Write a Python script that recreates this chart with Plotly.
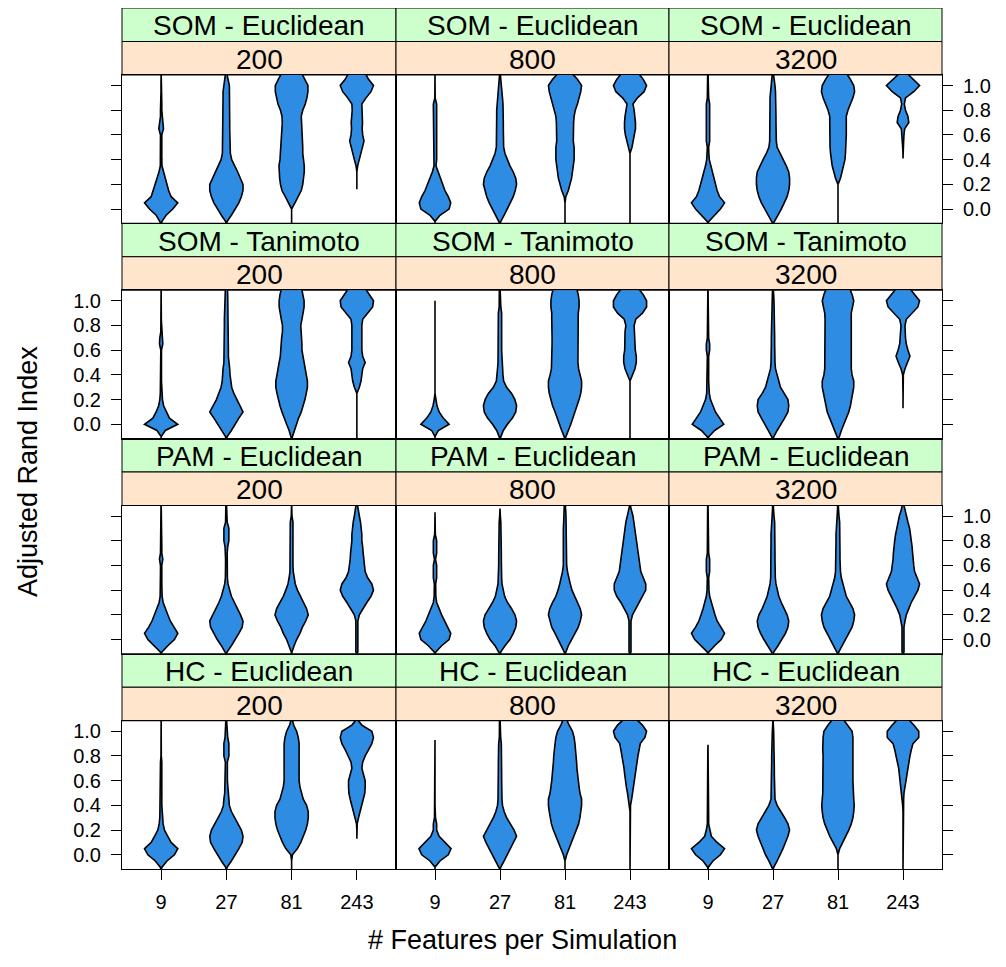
import plotly.graph_objects as go

# ---------------- data ----------------
METHODS = ["SOM - Euclidean", "SOM - Tanimoto", "PAM - Euclidean", "HC - Euclidean"]
SAMPLE_SIZES = ["200", "800", "3200"]
FEATURES = ["9", "27", "81", "243"]
Y_TICKS = [0.0, 0.2, 0.4, 0.6, 0.8, 1.0]
Y_TICK_TEXT = ["0.0", "0.2", "0.4", "0.6", "0.8", "1.0"]

# density profile levels (Adjusted Rand Index) at which violin half-widths were read
Y_LEVELS = [-0.10, -0.05, 0.00, 0.05, 0.10, 0.15, 0.20, 0.25, 0.30, 0.35, 0.40, 0.45,
            0.50, 0.55, 0.60, 0.65, 0.70, 0.75, 0.80, 0.85, 0.90, 0.95, 1.00, 1.05, 1.10]

# relative half-widths (1 = widest) per violin, one list per feature count; and (low, high) extents
SOM_EUC_200 = [
    [0.05, 0.3, 0.7, 1.0, 0.6, 0.45, 0.34, 0.25, 0.13, 0.05, 0.04, 0.04, 0.04, 0.04, 0.04, 0.14, 0.1, 0.04, 0.04, 0.04, 0.03, 0.01, 0.01, 0.01, 0.01],
    [0.05, 0.3, 0.55, 0.75, 0.9, 1.0, 1.0, 0.86, 0.68, 0.5, 0.32, 0.24, 0.22, 0.2, 0.2, 0.2, 0.2, 0.2, 0.2, 0.2, 0.2, 0.2, 0.18, 0.1, 0.05],
    [0, 0, 0, 0.2, 0.38, 0.58, 0.67, 0.72, 0.76, 0.76, 0.7, 0.67, 0.67, 0.65, 0.6, 0.58, 0.56, 0.58, 0.67, 0.82, 0.92, 0.98, 0.98, 0.8, 0.6],
    [0, 0, 0, 0, 0, 0, 0, 0, 0, 0.05, 0.15, 0.25, 0.35, 0.43, 0.35, 0.32, 0.34, 0.32, 0.28, 0.3, 0.55, 0.85, 1.0, 0.7, 0.5],
]
SOM_EUC_200_EXT = [(-0.12, 1.12), (-0.12, 1.12), (-0.12, 1.15), (0.16, 1.15)]

SOM_EUC_800 = [
    [0, 0.3, 0.85, 0.95, 0.8, 0.6, 0.46, 0.3, 0.16, 0.06, 0.1, 0.1, 0.1, 0.1, 0.1, 0.1, 0.1, 0.1, 0.1, 0.1, 0.01, 0.01, 0.01, 0.01, 0.01],
    [0.05, 0.25, 0.45, 0.65, 0.8, 0.92, 1.0, 0.95, 0.8, 0.6, 0.45, 0.3, 0.22, 0.2, 0.2, 0.2, 0.2, 0.2, 0.2, 0.18, 0.15, 0.12, 0.1, 0.05, 0.02],
    [0, 0, 0, 0, 0.05, 0.2, 0.3, 0.4, 0.45, 0.5, 0.55, 0.55, 0.55, 0.5, 0.5, 0.5, 0.52, 0.55, 0.62, 0.75, 0.85, 0.95, 1.0, 0.75, 0.4],
    [0, 0, 0, 0, 0, 0, 0, 0, 0, 0, 0, 0, 0.12, 0.2, 0.28, 0.33, 0.33, 0.3, 0.25, 0.18, 0.45, 0.85, 1.0, 0.8, 0.5],
]
SOM_EUC_800_EXT = [(-0.12, 1.12), (-0.12, 1.12), (-0.12, 1.15), (-0.12, 1.15)]

SOM_EUC_3200 = [
    [0.05, 0.4, 0.75, 1.0, 0.7, 0.55, 0.45, 0.35, 0.25, 0.15, 0.08, 0.05, 0.04, 0.1, 0.1, 0.1, 0.1, 0.1, 0.1, 0.1, 0.04, 0.04, 0.03, 0.02, 0.02],
    [0.1, 0.3, 0.5, 0.7, 0.85, 0.95, 1.0, 1.0, 0.95, 0.8, 0.6, 0.4, 0.25, 0.2, 0.18, 0.18, 0.18, 0.18, 0.18, 0.18, 0.18, 0.15, 0.12, 0.08, 0.04],
    [0, 0, 0, 0, 0, 0, 0, 0.15, 0.25, 0.35, 0.42, 0.45, 0.48, 0.48, 0.5, 0.5, 0.5, 0.5, 0.6, 0.75, 0.9, 1.0, 0.95, 0.75, 0.5],
    [0, 0, 0, 0, 0, 0, 0, 0, 0, 0, 0, 0, 0.02, 0.04, 0.06, 0.1, 0.35, 0.3, 0.15, 0.08, 0.15, 0.65, 1.0, 0.6, 0.2],
]
SOM_EUC_3200_EXT = [(-0.12, 1.12), (-0.12, 1.12), (-0.12, 1.15), (0.41, 1.13)]

SOM_TAN_200 = [
    [0, 0.25, 1.0, 0.5, 0.3, 0.15, 0.08, 0.05, 0.02, 0.02, 0.02, 0.02, 0.02, 0.02, 0.02, 0.1, 0.08, 0.02, 0.02, 0.01, 0.01, 0.01, 0.01, 0.01, 0.01],
    [0.05, 0.3, 0.5, 0.75, 1.0, 0.8, 0.6, 0.45, 0.32, 0.25, 0.22, 0.2, 0.15, 0.12, 0.12, 0.12, 0.12, 0.12, 0.12, 0.12, 0.12, 0.1, 0.08, 0.08, 0.06],
    [0.05, 0.15, 0.3, 0.42, 0.58, 0.7, 0.8, 0.88, 0.95, 0.95, 0.88, 0.8, 0.75, 0.68, 0.62, 0.62, 0.6, 0.55, 0.55, 0.62, 0.7, 0.75, 0.75, 0.7, 0.6],
    [0, 0, 0, 0, 0, 0, 0, 0, 0.15, 0.25, 0.3, 0.35, 0.5, 0.35, 0.3, 0.3, 0.3, 0.28, 0.3, 0.35, 0.65, 0.95, 1.0, 0.75, 0.5],
]
SOM_TAN_200_EXT = [(-0.12, 1.12), (-0.12, 1.12), (-0.12, 1.15), (-0.12, 1.15)]

SOM_TAN_800 = [
    [0, 0.2, 0.85, 0.5, 0.25, 0.12, 0.05, 0, 0, 0, 0, 0, 0, 0, 0, 0, 0, 0, 0, 0, 0, 0, 0, 0, 0],
    [0.05, 0.2, 0.45, 0.75, 0.95, 1.0, 0.9, 0.7, 0.4, 0.22, 0.18, 0.15, 0.12, 0.1, 0.1, 0.1, 0.1, 0.1, 0.1, 0.1, 0.1, 0.05, 0.04, 0.04, 0.04],
    [0.05, 0.2, 0.35, 0.48, 0.6, 0.75, 0.85, 0.95, 1.0, 1.0, 0.9, 0.82, 0.78, 0.78, 0.78, 0.78, 0.78, 0.78, 0.78, 0.8, 0.8, 0.85, 0.85, 0.8, 0.7],
    [0, 0, 0, 0, 0, 0, 0, 0, 0, 0, 0.15, 0.3, 0.38, 0.38, 0.32, 0.3, 0.3, 0.3, 0.25, 0.35, 0.75, 1.0, 1.0, 0.8, 0.5],
]
SOM_TAN_800_EXT = [(-0.12, 1.0), (-0.12, 1.12), (-0.12, 1.15), (-0.12, 1.15)]

SOM_TAN_3200 = [
    [0.05, 0.4, 0.95, 0.7, 0.45, 0.3, 0.15, 0.08, 0.05, 0.04, 0.04, 0.04, 0.04, 0.04, 0.1, 0.1, 0.04, 0.04, 0.04, 0.03, 0.01, 0.01, 0.01, 0.01, 0.01],
    [0.05, 0.25, 0.5, 0.7, 0.9, 0.95, 0.9, 0.65, 0.45, 0.35, 0.25, 0.15, 0.12, 0.1, 0.1, 0.1, 0.1, 0.1, 0.1, 0.1, 0.1, 0.08, 0.06, 0.04, 0.03],
    [0.08, 0.2, 0.35, 0.5, 0.65, 0.75, 0.82, 0.88, 0.95, 0.95, 0.85, 0.8, 0.8, 0.78, 0.78, 0.78, 0.78, 0.78, 0.78, 0.78, 0.8, 0.88, 0.95, 0.85, 0.7],
    [0, 0, 0, 0, 0, 0, 0, 0, 0, 0, 0.02, 0.12, 0.28, 0.42, 0.3, 0.2, 0.15, 0.15, 0.12, 0.2, 0.55, 0.9, 1.0, 0.7, 0.4],
]
SOM_TAN_3200_EXT = [(-0.12, 1.12), (-0.12, 1.12), (-0.12, 1.15), (0.13, 1.15)]

PAM_EUC_200 = [
    [0.05, 0.4, 0.8, 1.0, 0.75, 0.55, 0.4, 0.25, 0.12, 0.06, 0.03, 0.04, 0.04, 0.04, 0.04, 0.1, 0.04, 0.04, 0.04, 0.01, 0.01, 0.01, 0.01, 0.01, 0.01],
    [0.05, 0.3, 0.55, 0.75, 0.95, 1.0, 0.85, 0.65, 0.45, 0.3, 0.2, 0.1, 0.06, 0.05, 0.05, 0.05, 0.05, 0.08, 0.15, 0.15, 0.15, 0.05, 0.05, 0.03, 0.03],
    [0.02, 0.15, 0.3, 0.5, 0.65, 0.85, 1.0, 0.9, 0.7, 0.5, 0.35, 0.22, 0.15, 0.1, 0.08, 0.08, 0.08, 0.08, 0.08, 0.08, 0.08, 0.08, 0.02, 0.02, 0.02],
    [0.06, 0.06, 0.06, 0.06, 0.06, 0.06, 0.15, 0.35, 0.6, 0.85, 1.0, 0.9, 0.65, 0.5, 0.45, 0.4, 0.38, 0.35, 0.3, 0.3, 0.28, 0.22, 0.15, 0.08, 0.04],
]
PAM_EUC_200_EXT = [(-0.12, 1.12), (-0.12, 1.12), (-0.12, 1.12), (-0.12, 1.12)]

PAM_EUC_800 = [
    [0.05, 0.4, 0.85, 0.95, 0.75, 0.55, 0.4, 0.25, 0.1, 0.05, 0.04, 0.04, 0.1, 0.1, 0.1, 0.03, 0.1, 0.1, 0.1, 0.02, 0.01, 0.01, 0, 0, 0],
    [0.05, 0.3, 0.6, 0.8, 0.95, 1.0, 0.9, 0.7, 0.45, 0.28, 0.2, 0.12, 0.1, 0.08, 0.08, 0.08, 0.08, 0.08, 0.08, 0.08, 0.06, 0.05, 0.02, 0.01, 0.01],
    [0.05, 0.2, 0.4, 0.6, 0.8, 0.92, 1.0, 0.92, 0.75, 0.55, 0.42, 0.32, 0.22, 0.15, 0.1, 0.1, 0.1, 0.1, 0.1, 0.1, 0.1, 0.08, 0.06, 0.04, 0.04],
    [0.06, 0.06, 0.06, 0.06, 0.06, 0.06, 0.15, 0.35, 0.55, 0.8, 0.95, 0.95, 0.8, 0.65, 0.6, 0.55, 0.5, 0.45, 0.4, 0.35, 0.3, 0.25, 0.18, 0.08, 0.02],
]
PAM_EUC_800_EXT = [(-0.12, 1.03), (-0.12, 1.06), (-0.12, 1.12), (-0.12, 1.1)]

PAM_EUC_3200 = [
    [0.05, 0.4, 0.8, 1.0, 0.75, 0.55, 0.42, 0.3, 0.18, 0.1, 0.06, 0.04, 0.04, 0.1, 0.1, 0.1, 0.04, 0.04, 0.04, 0.04, 0.02, 0.02, 0.02, 0.02, 0.02],
    [0.05, 0.3, 0.55, 0.75, 0.9, 0.95, 0.85, 0.65, 0.5, 0.35, 0.25, 0.18, 0.14, 0.12, 0.12, 0.12, 0.12, 0.12, 0.12, 0.12, 0.12, 0.1, 0.06, 0.03, 0.02],
    [0.05, 0.25, 0.45, 0.65, 0.85, 0.95, 1.0, 0.9, 0.7, 0.5, 0.4, 0.3, 0.2, 0.15, 0.12, 0.12, 0.12, 0.12, 0.12, 0.12, 0.12, 0.1, 0.06, 0.03, 0.02],
    [0.06, 0.06, 0.06, 0.06, 0.06, 0.12, 0.2, 0.35, 0.5, 0.7, 0.9, 1.0, 0.85, 0.7, 0.65, 0.6, 0.58, 0.55, 0.5, 0.45, 0.4, 0.3, 0.22, 0.1, 0.03],
]
PAM_EUC_3200_EXT = [(-0.12, 1.12), (-0.12, 1.12), (-0.12, 1.12), (-0.12, 1.12)]

HC_EUC_200 = [
    [0.05, 0.35, 0.8, 1.0, 0.6, 0.4, 0.2, 0.12, 0.08, 0.04, 0.04, 0.04, 0.04, 0.08, 0.08, 0.06, 0.04, 0.04, 0.01, 0.01, 0.01, 0.01, 0.01, 0.01, 0.01],
    [0.05, 0.3, 0.55, 0.75, 0.95, 1.0, 0.9, 0.7, 0.5, 0.3, 0.18, 0.15, 0.1, 0.06, 0.06, 0.06, 0.06, 0.06, 0.15, 0.15, 0.15, 0.08, 0.06, 0.05, 0.03],
    [0, 0, 0.05, 0.35, 0.55, 0.72, 0.85, 0.95, 1.0, 1.0, 0.9, 0.7, 0.6, 0.5, 0.45, 0.45, 0.45, 0.45, 0.45, 0.45, 0.45, 0.4, 0.3, 0.12, 0.02],
    [0, 0, 0, 0, 0, 0, 0, 0.02, 0.1, 0.2, 0.3, 0.4, 0.48, 0.5, 0.5, 0.4, 0.3, 0.35, 0.5, 0.7, 0.9, 1.0, 0.9, 0.3, 0.0],
]
HC_EUC_200_EXT = [(-0.12, 1.12), (-0.12, 1.12), (-0.12, 1.12), (0.13, 1.12)]

HC_EUC_800 = [
    [0, 0.3, 0.8, 0.97, 0.6, 0.25, 0.1, 0.1, 0.03, 0, 0, 0, 0, 0, 0, 0, 0, 0, 0, 0, 0, 0, 0, 0, 0],
    [0.05, 0.25, 0.45, 0.65, 0.85, 1.0, 0.85, 0.6, 0.4, 0.25, 0.15, 0.12, 0.1, 0.1, 0.1, 0.1, 0.1, 0.1, 0.1, 0.1, 0.08, 0.04, 0.03, 0.03, 0.03],
    [0, 0, 0.1, 0.25, 0.4, 0.55, 0.7, 0.82, 0.9, 0.95, 1.0, 1.0, 0.9, 0.85, 0.8, 0.78, 0.72, 0.7, 0.68, 0.65, 0.6, 0.55, 0.45, 0.25, 0.1],
    [0, 0, 0, 0, 0, 0, 0, 0, 0, 0, 0.03, 0.1, 0.15, 0.22, 0.28, 0.32, 0.36, 0.42, 0.48, 0.55, 0.62, 0.9, 1.0, 0.75, 0.35],
]
HC_EUC_800_EXT = [(-0.12, 0.93), (-0.12, 1.12), (-0.12, 1.12), (-0.12, 1.13)]

HC_EUC_3200 = [
    [0.02, 0.3, 0.75, 1.0, 0.55, 0.2, 0.1, 0.04, 0.04, 0.04, 0.04, 0.04, 0.01, 0.01, 0.01, 0.01, 0.01, 0.01, 0.01, 0.01, 0, 0, 0, 0, 0],
    [0.05, 0.25, 0.45, 0.6, 0.75, 0.9, 1.0, 0.9, 0.7, 0.45, 0.25, 0.12, 0.1, 0.08, 0.08, 0.08, 0.08, 0.08, 0.08, 0.08, 0.08, 0.06, 0.04, 0.02, 0.02],
    [0, 0, 0, 0.1, 0.3, 0.5, 0.65, 0.8, 0.9, 0.95, 0.98, 0.95, 0.92, 0.9, 0.9, 0.9, 0.9, 0.9, 0.9, 0.92, 0.92, 0.9, 0.85, 0.6, 0.3],
    [0, 0, 0, 0, 0, 0, 0, 0, 0, 0, 0.02, 0.04, 0.06, 0.12, 0.18, 0.22, 0.26, 0.32, 0.42, 0.5, 0.6, 0.95, 0.95, 0.65, 0.3],
]
HC_EUC_3200_EXT = [(-0.12, 0.89), (-0.12, 1.12), (-0.12, 1.13), (-0.12, 1.13)]

PANEL_WIDTHS = [
    [SOM_EUC_200, SOM_EUC_800, SOM_EUC_3200],
    [SOM_TAN_200, SOM_TAN_800, SOM_TAN_3200],
    [PAM_EUC_200, PAM_EUC_800, PAM_EUC_3200],
    [HC_EUC_200, HC_EUC_800, HC_EUC_3200],
]
PANEL_EXTENTS = [
    [SOM_EUC_200_EXT, SOM_EUC_800_EXT, SOM_EUC_3200_EXT],
    [SOM_TAN_200_EXT, SOM_TAN_800_EXT, SOM_TAN_3200_EXT],
    [PAM_EUC_200_EXT, PAM_EUC_800_EXT, PAM_EUC_3200_EXT],
    [HC_EUC_200_EXT, HC_EUC_800_EXT, HC_EUC_3200_EXT],
]

# ---------------- style / layout ----------------
PAGE_MARGIN = 8          # browser default body margin
W, H = 990, 951          # figure size so that the page fills 1006 x 967
FONT = "Liberation Sans, Arial, sans-serif"
VIOLIN_FILL = "#2E8DE3"
STRIP_OUTER = "#CCFFCC"
STRIP_INNER = "#FFE5CC"
HALF_WIDTH = 0.255
COL_PX = [(122, 396), (396, 669), (669, 942)]
TOP_PX = 8.0
ROW_PX = 215.25
STRIP_PX = 33.5
STRIP_FONT = 28
TICK_FONT = 20
TITLE_FONT = 27


def px_x(p):
    return (p - PAGE_MARGIN) / W


def px_y(p):
    return 1 - (p - PAGE_MARGIN) / H


fig = go.Figure()
shapes = []
annotations = []
layout_axes = {}

for r, method in enumerate(METHODS):
    row_top = TOP_PX + r * ROW_PX
    panel_top = row_top + 2 * STRIP_PX
    panel_bot = row_top + ROW_PX
    for c, size in enumerate(SAMPLE_SIZES):
        n = r * 3 + c + 1
        xs = "" if n == 1 else str(n)
        x0, x1 = COL_PX[c]
        # strips
        for k, (col, label) in enumerate([(STRIP_OUTER, method), (STRIP_INNER, size)]):
            s0 = row_top + k * STRIP_PX
            s1 = s0 + STRIP_PX
            shapes.append(dict(type="rect", xref="paper", yref="paper",
                               x0=px_x(x0), x1=px_x(x1), y0=px_y(s1), y1=px_y(s0),
                               fillcolor=col, line=dict(color="black", width=1), layer="below"))
            annotations.append(dict(text=label, xref="paper", yref="paper",
                                    x=px_x((x0 + x1) / 2), y=px_y((s0 + s1) / 2 + 1),
                                    showarrow=False, xanchor="center", yanchor="middle",
                                    font=dict(family=FONT, size=STRIP_FONT, color="black")))
        # violins
        widths = PANEL_WIDTHS[r][c]
        exts = PANEL_EXTENTS[r][c]
        for j, feat in enumerate(FEATURES):
            center = j + 1
            lo, hi = exts[j]
            ys = [lo] + [y for y in Y_LEVELS if lo < y < hi] + [hi]
            ws = [0.0] + [w for y, w in zip(Y_LEVELS, widths[j]) if lo < y < hi] + [0.0]
            px_right = [center + HALF_WIDTH * w for w in ws]
            px_left = [center - HALF_WIDTH * w for w in ws]
            xs_poly = px_right + px_left[::-1] + [px_right[0]]
            ys_poly = ys + ys[::-1] + [ys[0]]
            fig.add_trace(go.Scatter(x=xs_poly, y=ys_poly, mode="lines", fill="toself",
                                     fillcolor=VIOLIN_FILL,
                                     line=dict(color="black", width=1.6),
                                     xaxis="x" + xs, yaxis="y" + xs,
                                     hoverinfo="skip", showlegend=False))
        bottom = r == len(METHODS) - 1
        layout_axes["xaxis" + xs] = dict(
            domain=[px_x(x0), px_x(x1)], anchor="y" + xs, range=[0.4, 4.6],
            tickvals=[1, 2, 3, 4], ticktext=FEATURES, showticklabels=bottom,
            ticks="outside" if bottom else "", ticklen=10, tickcolor="black",
            ticklabelstandoff=5,
            showline=True, mirror=True, linecolor="black", linewidth=1,
            showgrid=False, zeroline=False, automargin=False, fixedrange=True,
            tickfont=dict(family=FONT, size=TICK_FONT, color="black"))
        yax = dict(
            domain=[px_y(panel_bot), px_y(panel_top)], anchor="x" + xs,
            range=[-0.115, 1.085], tickvals=Y_TICKS, ticktext=Y_TICK_TEXT,
            showline=True, mirror=True, linecolor="black", linewidth=1,
            showgrid=False, zeroline=False, automargin=False, fixedrange=True,
            ticklen=10, tickcolor="black", ticklabelstandoff=6,
            tickfont=dict(family=FONT, size=TICK_FONT, color="black"))
        if c == 0:
            yax.update(side="left", ticks="outside", showticklabels=(r % 2 == 1))
        elif c == 2:
            yax.update(side="right", ticks="outside", showticklabels=(r % 2 == 0))
        else:
            yax.update(ticks="", showticklabels=False)
        layout_axes["yaxis" + xs] = yax

annotations.append(dict(text="Adjusted Rand Index", xref="paper", yref="paper",
                        x=px_x(28), y=px_y(472), textangle=-90, showarrow=False,
                        xanchor="center", yanchor="middle",
                        font=dict(family=FONT, size=TITLE_FONT, color="black")))
annotations.append(dict(text="# Features per Simulation", xref="paper", yref="paper",
                        x=px_x(522), y=px_y(940), showarrow=False,
                        xanchor="center", yanchor="middle",
                        font=dict(family=FONT, size=TITLE_FONT, color="black")))

fig.update_layout(width=W, height=H, margin=dict(l=0, r=0, t=0, b=0),
                  paper_bgcolor="white", plot_bgcolor="white",
                  shapes=shapes, annotations=annotations, showlegend=False,
                  **layout_axes)
fig.write_html("out.html")
